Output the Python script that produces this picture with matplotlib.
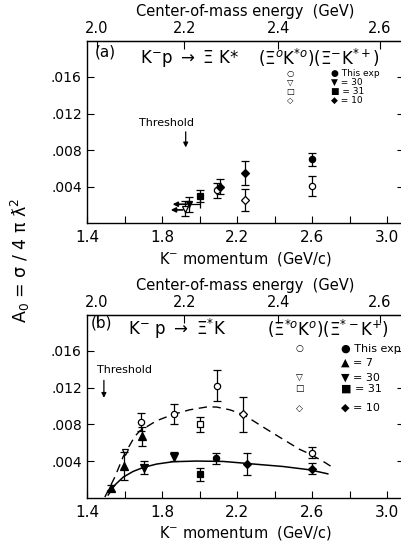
import numpy as np
import matplotlib
matplotlib.use('Agg')
import matplotlib.pyplot as plt
from matplotlib.ticker import FixedLocator, FuncFormatter

plt.rcParams['font.family'] = ['DejaVu Sans']
plt.rcParams['mathtext.fontset'] = 'dejavusans'

# masses (GeV) for the momentum -> c.m. energy scale
MP = 0.9383
MK = 0.4937

# ---------------- panel (a): K- p -> Xi K* ----------------
# open symbols: Xi0 K*0 ; filled: Xi- K*+
a_oc_x = [2.09, 2.60]
a_oc_y = [0.0036, 0.0041]
a_oc_e = [0.0008, 0.0011]
a_otd_x = [1.92]
a_otd_y = [0.0016]
a_otd_e = [0.0008]
a_od_x = [2.24]
a_od_y = [0.0026]
a_od_e = [0.0012]

a_fc_x = [2.60]
a_fc_y = [0.0070]
a_fc_e = [0.0007]
a_ftd_x = [1.94]
a_ftd_y = [0.0021]
a_ftd_e = [0.0008]
a_ftd_xe = [0.06]
a_fs_x = [2.00]
a_fs_y = [0.0030]
a_fs_e = [0.0007]
a_fd_x = [2.11, 2.24]
a_fd_y = [0.0040, 0.0055]
a_fd_e = [0.0008, 0.0013]

# upper-limit style arrows (start x, end x, y)
a_arrows = [(1.93, 1.855, 0.0021), (1.91, 1.845, 0.00148)]

# ---------------- panel (b): K- p -> Xi* K ----------------
b_oc_x = [1.685, 1.86, 2.09, 2.60]
b_oc_y = [0.0083, 0.0091, 0.0122, 0.0049]
b_oc_e = [0.0010, 0.0011, 0.0017, 0.0006]
b_otd_x = [1.60]
b_otd_y = [0.0050]
b_os_x = [2.00]
b_os_y = [0.0080]
b_os_e = [0.0008]
b_od_x = [2.23]
b_od_y = [0.0091]
b_od_e = [0.0019]

b_fc_x = [2.085]
b_fc_y = [0.0043]
b_fc_e = [0.0006]
b_ftu_x = [1.525, 1.595, 1.69]
b_ftu_y = [0.0011, 0.0035, 0.0067]
b_ftu_e = [0.0003, 0.0015, 0.0010]
b_ftd_x = [1.70, 1.86]
b_ftd_y = [0.0033, 0.0045]
b_ftd_e = [0.0007, 0.0005]
b_fs_x = [2.00]
b_fs_y = [0.0026]
b_fs_e = [0.0007]
b_fd_x = [2.25, 2.60]
b_fd_y = [0.0037, 0.0032]
b_fd_e = [0.0012, 0.0006]

# curves
dash_x = [1.493, 1.547, 1.591, 1.653, 1.68, 1.769, 1.858, 1.947, 2.036, 2.089,
          2.16, 2.231, 2.356, 2.444, 2.533, 2.587, 2.658, 2.72]
dash_y = [0.0001, 0.0023, 0.0045, 0.0067, 0.0073, 0.0084, 0.0091, 0.0096, 0.0099,
          0.0099, 0.0096, 0.0091, 0.0075, 0.0064, 0.0053, 0.0048, 0.0040, 0.0032]
solid_x = [1.511, 1.547, 1.591, 1.644, 1.698, 1.769, 1.858, 1.982, 2.124, 2.231,
           2.267, 2.444, 2.587, 2.684]
solid_y = [0.00033, 0.00142, 0.00227, 0.00289, 0.00332, 0.00369, 0.00395, 0.00402,
           0.00398, 0.0038, 0.00373, 0.00343, 0.00307, 0.00263]

x_labels = [1.4, 1.8, 2.2, 2.6, 3.0]
x_minor = [1.6, 2.0, 2.4, 2.8]
y_ticks = [0.004, 0.008, 0.012, 0.016]
w_ticks = [2.0, 2.2, 2.4, 2.6]


def p_to_w(p):
    p = np.asarray(p, dtype=float)
    e = np.sqrt(p ** 2 + MK ** 2)
    return np.sqrt(MP ** 2 + MK ** 2 + 2 * MP * e)


def w_to_p(w):
    w = np.asarray(w, dtype=float)
    e = (w ** 2 - MP ** 2 - MK ** 2) / (2 * MP)
    return np.sqrt(np.maximum(e ** 2 - MK ** 2, 0))


def setup(ax):
    ax.set_xlim(1.4, 3.09)
    ax.set_ylim(0, 0.0199)
    ax.xaxis.set_major_locator(FixedLocator(x_labels))
    ax.xaxis.set_minor_locator(FixedLocator(x_minor))
    ax.yaxis.set_major_locator(FixedLocator(y_ticks))
    ax.xaxis.set_major_formatter(FuncFormatter(lambda v, p: f'{v:.1f}'))
    ax.yaxis.set_major_formatter(FuncFormatter(lambda v, p: f'{v:.3f}'.lstrip('0')))
    ax.tick_params(which='both', direction='in', length=5, width=0.8,
                   top=False, right=True)
    ax.tick_params(axis='x', labelsize=11, pad=5)
    ax.tick_params(axis='y', labelsize=10, pad=4)
    for s in ax.spines.values():
        s.set_linewidth(1.0)
    ax.set_xlabel('K$^{-}$ momentum  (GeV/c)', fontsize=10.5, labelpad=3)
    sec = ax.secondary_xaxis('top', functions=(p_to_w, w_to_p))
    sec.set_xticks(w_ticks)
    sec.xaxis.set_major_formatter(FuncFormatter(lambda v, p: f'{v:.1f}'))
    sec.tick_params(direction='in', length=6, width=0.8, labelsize=10.5, pad=4)
    sec.set_xlabel('Center-of-mass energy  (GeV)', fontsize=10.5, labelpad=3)


def pts(ax, x, y, e, marker, filled, ms=4.5, xerr=None):
    ax.errorbar(x, y, yerr=e, xerr=xerr, fmt=marker, color='black',
                mfc='black' if filled else 'white', mec='black', ms=ms,
                mew=0.9, elinewidth=0.9, capsize=3, capthick=0.9, zorder=3)


fig = plt.figure(figsize=(4.01, 5.46), dpi=100)
ax_a = fig.add_axes([0.218, 0.5907, 0.789, 0.334])
ax_b = fig.add_axes([0.218, 0.0879, 0.789, 0.335])
setup(ax_a)
setup(ax_b)

# panel a
pts(ax_a, a_oc_x, a_oc_y, a_oc_e, 'o', False)
pts(ax_a, a_otd_x, a_otd_y, a_otd_e, 'v', False, ms=5)
pts(ax_a, a_od_x, a_od_y, a_od_e, 'D', False, ms=4)
pts(ax_a, a_fc_x, a_fc_y, a_fc_e, 'o', True)
pts(ax_a, a_ftd_x, a_ftd_y, a_ftd_e, 'v', True, ms=5, xerr=[[0.0], a_ftd_xe])
pts(ax_a, a_fs_x, a_fs_y, a_fs_e, 's', True, ms=4)
pts(ax_a, a_fd_x, a_fd_y, a_fd_e, 'D', True, ms=4)
for x0, x1, yy in a_arrows:
    ax_a.annotate('', xy=(x1, yy), xytext=(x0, yy),
                  arrowprops=dict(arrowstyle='-|>', color='black', lw=1.2,
                                  mutation_scale=7, shrinkA=0, shrinkB=0))

ax_a.text(1.82, 0.0110, 'Threshold', fontsize=8, ha='center', va='center')
ax_a.annotate('', xy=(1.925, 0.0083), xytext=(1.925, 0.0100),
              arrowprops=dict(arrowstyle='-|>', color='black', lw=0.9,
                              mutation_scale=7, shrinkA=0, shrinkB=0))

ax_a.text(0.055, 0.94, '(a)', transform=ax_a.transAxes, fontsize=11,
          ha='center', va='center')
ax_a.text(0.166, 0.905, 'K$^{-}$p $\\rightarrow$ $\\Xi$ K*', transform=ax_a.transAxes,
          fontsize=12, ha='left', va='center')
ax_a.text(0.538, 0.905, '$(\\Xi^{o}$K$^{*o})(\\Xi^{-}$K$^{*+})$',
          transform=ax_a.transAxes, fontsize=12, ha='left', va='center')
a_open_keys = ['○', '▽', '□', '◇']
a_fill_keys = ['● This exp', '▼ = 30', '■ = 31', '◆ = 10']
a_rows = [0.825, 0.775, 0.725, 0.675]
for k, f, yy in zip(a_open_keys, a_fill_keys, a_rows):
    ax_a.text(0.64, yy, k, transform=ax_a.transAxes, fontsize=6,
              ha='center', va='center')
    ax_a.text(0.77, yy, f, transform=ax_a.transAxes, fontsize=6.5,
              ha='left', va='center')

# panel b
ax_b.plot(dash_x, dash_y, color='black', lw=1.0, ls=(0, (6, 4)), zorder=2)
ax_b.plot(solid_x, solid_y, color='black', lw=1.1, zorder=2)
pts(ax_b, b_oc_x, b_oc_y, b_oc_e, 'o', False)
ax_b.plot(b_otd_x, b_otd_y, 'v', color='black', mfc='white', ms=4, mew=0.9, zorder=3)
pts(ax_b, b_os_x, b_os_y, b_os_e, 's', False, ms=4)
pts(ax_b, b_od_x, b_od_y, b_od_e, 'D', False, ms=4)
pts(ax_b, b_fc_x, b_fc_y, b_fc_e, 'o', True)
pts(ax_b, b_ftu_x, b_ftu_y, b_ftu_e, '^', True, ms=5.5)
pts(ax_b, b_ftd_x, b_ftd_y, b_ftd_e, 'v', True, ms=5.5)
pts(ax_b, b_fs_x, b_fs_y, b_fs_e, 's', True, ms=4)
pts(ax_b, b_fd_x, b_fd_y, b_fd_e, 'D', True, ms=4)

ax_b.text(1.60, 0.0139, 'Threshold', fontsize=8, ha='center', va='center')
ax_b.annotate('', xy=(1.488, 0.0109), xytext=(1.488, 0.0128),
              arrowprops=dict(arrowstyle='-|>', color='black', lw=0.9,
                              mutation_scale=7, shrinkA=0, shrinkB=0))

ax_b.text(0.045, 0.958, '(b)', transform=ax_b.transAxes, fontsize=11,
          ha='center', va='center')
ax_b.text(0.128, 0.925, 'K$^{-}$ p $\\rightarrow$ $\\Xi^{*}$K', transform=ax_b.transAxes,
          fontsize=12, ha='left', va='center')
ax_b.text(0.568, 0.925, '$(\\Xi^{*o}$K$^{o})(\\Xi^{*-}$K$^{+})$',
          transform=ax_b.transAxes, fontsize=12, ha='left', va='center')
b_open_keys = ['○', '', '▽', '□', '◇']
b_fill_keys = ['● This exp', '▲ = 7', '▼ = 30', '■ = 31', '◆ = 10']
b_rows = [0.815, 0.738, 0.656, 0.596, 0.492]
for k, f, yy in zip(b_open_keys, b_fill_keys, b_rows):
    ax_b.text(0.67, yy, k, transform=ax_b.transAxes, fontsize=6.5,
              ha='center', va='center')
    ax_b.text(0.80, yy, f, transform=ax_b.transAxes, fontsize=8,
              ha='left', va='center')

fig.text(0.05, 0.524, 'A$_0$ = σ / 4 π ƛ$^2$', rotation=90, fontsize=12.5,
         ha='center', va='center')

fig.savefig('out.png', dpi=100)
